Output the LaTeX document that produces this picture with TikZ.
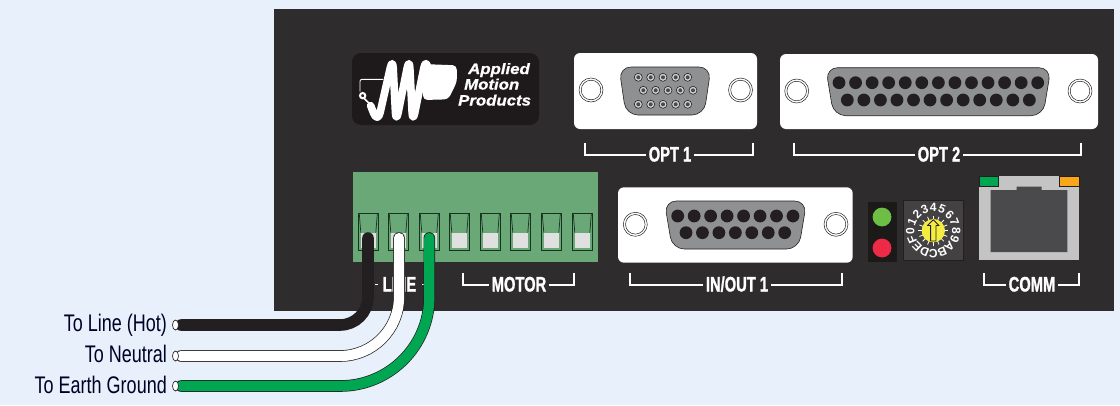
\documentclass[tikz,border=0pt]{standalone}
\usepackage{fontspec}
\usetikzlibrary{calc,shapes.geometric}
\setmainfont{Liberation Sans}
\newfontfamily\capfont[FakeStretch=0.7,FakeBold=1.2]{Liberation Sans}
\newfontfamily\sidefont[FakeStretch=0.75]{Liberation Sans}
\newfontfamily\logofont[FakeStretch=1.12,FakeBold=0.8]{Liberation Sans}
\definecolor{bgc}{HTML}{E8F1FB}
\definecolor{panelc}{HTML}{2E2C2D}
\definecolor{blockc}{HTML}{6AA877}
\definecolor{termc}{HTML}{16331F}
\definecolor{shellc}{HTML}{8F9092}
\definecolor{pinc}{HTML}{231F20}
\definecolor{wgreen}{HTML}{00A651}
\definecolor{rjc}{HTML}{C4C4C4}
\definecolor{rjd}{HTML}{4A4A4C}
\definecolor{ledg}{HTML}{6CBE45}
\definecolor{ledr}{HTML}{EE2A47}
\definecolor{yel}{HTML}{F5EC42}
\definecolor{oran}{HTML}{F9A61A}
\tikzset{
  x=1pt,y=-1pt,
  plate/.style={fill=white,rounded corners=6pt},
  shell/.style={fill=shellc,draw=pinc,line width=.6pt,rounded corners=12pt},
  holes/.style={fill=pinc,draw=none},
  bracket/.style={draw=white,line width=1.9pt},
  capt/.style={font=\capfont\bfseries\fontsize{21}{21}\selectfont,text=white,inner xsep=3pt,inner ysep=0pt,text height=13pt,text depth=0pt},
  side/.style={font=\sidefont\fontsize{24}{24}\selectfont,text=black!85!blue,anchor=base east,inner sep=0pt},
  logot/.style={font=\logofont\bfseries\itshape\fontsize{15}{15}\selectfont,text=white,anchor=base west,inner sep=0pt},
  dial/.style={font=\bfseries\fontsize{12}{12}\selectfont,text=white,inner sep=0pt},
  wireo/.style={line width=11.6pt,line cap=round,draw=pinc,rounded corners=#1},
  wirei/.style={line width=10.2pt,line cap=round,rounded corners=#1},
  wireend/.style={ellipse,draw=pinc,fill=white,line width=.7pt,minimum width=6pt,minimum height=10pt,inner sep=0pt},
}
\newcommand{\screwat}[2]{%
  \draw[pinc,line width=.5pt,fill=white] (#1,#2) circle[radius=12];
  \draw[pinc,line width=.5pt] (#1,#2) circle[radius=9.8];}
\newcommand{\dsubshell}[5]{% x1 x2 y1 y2 taper
  \draw[shell] (#1,#3) -- (#2,#3) -- ({#2-#5},#4) -- ({#1+#5},#4) -- cycle;}
\begin{document}
\begin{tikzpicture}
\useasboundingbox (0,0) rectangle (1120,405);
\fill[bgc] (0,0) rectangle (1120,405);
% panel
\fill[panelc] (274,9) rectangle (1114,311);

% logo
\fill[pinc!85!black,rounded corners=9pt] (352,53) rectangle (539,125);
\begin{scope}[shift={(340,40)},x=.3333pt,y=-.3333pt]
  \draw[white,line width=.9pt,rounded corners=2pt] (130,118) -- (60,118) -- (60,155);
  \draw[white,line width=2pt,fill=pinc] (68,167) circle[radius=8];
  \draw[white,line width=1.6pt] (72,175) -- (92,195);
  \fill[white,rounded corners=4pt] (245,72) -- (350,76) -- (351,125) -- (325,178) -- (250,180) -- cycle;
  \draw[white,line width=7.6pt,line join=round,line cap=round,rounded corners=11pt]
    (92,197) -- (113,250) -- (158,52) -- (168,250) -- (208,52) -- (218,250) -- (258,52) -- (268,110);
\end{scope}
\node[logot] (logoa) at (468,74) {Applied};
\node[logot] (logom) at (464,89.5) {Motion};
\node[logot] (logop) at (458,105.5) {Products};

% OPT 1
\fill[plate] (574,53) rectangle (757,129);
\screwat{591}{90}\screwat{740.5}{90}
\dsubshell{619}{711}{67}{115}{7}
\foreach \x in {638.3,650.7,663,675.7,687.7}{
  \foreach \y in {77.3,104.3}{
    \draw[pinc,line width=.6pt,fill=shellc!40!white] (\x,\y) circle[radius=4];
    \fill[rjd] (\x,\y) circle[radius=2];}}
\foreach \x in {643.3,655.7,668,680.3,693}{
    \draw[pinc,line width=.6pt,fill=shellc!40!white] (\x,90.3) circle[radius=4];
    \fill[rjd] (\x,90.3) circle[radius=2];}
\node[capt] (lopt1) at (670,155) {OPT 1};
\draw[bracket] (585,143) |- (lopt1.west);
\draw[bracket] (753,143) |- (lopt1.east);

% OPT 2
\fill[plate] (780,54) rectangle (1098,129);
\screwat{796.7}{91}\screwat{1080}{91}
\dsubshell{825.7}{1051}{67.7}{115.7}{8}
\foreach \i in {0,...,12}{\fill[holes] ({839+\i*16.56},82.7) circle[radius=6.4];}
\foreach \i in {0,...,11}{\fill[holes] ({847.3+\i*16.55},100) circle[radius=6.4];}
\node[capt] (lopt2) at (939,155) {OPT 2};
\draw[bracket] (794,143) |- (lopt2.west);
\draw[bracket] (1080.7,143) |- (lopt2.east);

% IN/OUT 1
\fill[plate] (618,187.3) rectangle (852.7,262.7);
\screwat{635.3}{224.3}\screwat{836}{224.3}
\dsubshell{664.3}{806.7}{201}{249}{8}
\foreach \i in {0,...,7}{\fill[holes] ({677.7+\i*16.47},216) circle[radius=6.4];}
\foreach \i in {0,...,6}{\fill[holes] ({686+\i*16.45},232.7) circle[radius=6.4];}
\node[capt] (lio) at (737,285) {IN/OUT 1};
\draw[bracket] (630,273.3) |- (lio.west);
\draw[bracket] (842,273.3) |- (lio.east);

% terminal block
\fill[blockc] (352.5,172) rectangle (597.5,262);
\foreach \x in {358.3,388.3,419.3,449.3,480.3,510.3,541.3,572.3}{
  \draw[termc,line width=.7pt] (\x,213.3) rectangle ++(20,37.4);
  \draw[termc,line width=.7pt] ({\x+1},214) -- ({\x+2.5},232.7);
  \draw[termc,line width=.7pt] ({\x+19},214) -- ({\x+17.5},232.7);
  \fill[black!12] ({\x+2.5},232.7) rectangle ({\x+17.5},248);
}
\node[capt] (lmotor) at (519,285) {MOTOR};
\draw[bracket] (463.3,273) |- (lmotor.west);
\draw[bracket] (574,273) |- (lmotor.east);
\node[capt] (lline) at (399.5,285) {LINE};
\draw[bracket] (375,284.5) -- (378,284.5);
\draw[bracket] (422,284.5) -- (425,284.5);

% LEDs
\fill[pinc!80!black] (868,202) rectangle (897,262);
\fill[ledg] (882,217) circle[radius=9.4];
\fill[ledr] (882,248) circle[radius=9.4];

% rotary switch
\draw[pinc,line width=.5pt,fill=panelc!90!white] (903.3,200.7) rectangle (963,260);
\coordinate (dialc) at (933.3,230.7);
\foreach \a in {0,22.5,...,337.5}{
  \draw[white,line width=.8pt] (dialc) ++(\a:10) -- ++(\a:5);}
\fill[yel] (dialc) circle[radius=11.7];
\draw[pinc,line width=.9pt,line join=round,fill=yel]
  (930.6,241) -- (930.6,225.5) -- (927.5,225.5) -- (933.3,219.8) -- (939.1,225.5) -- (936,225.5) -- (936,241) -- cycle;
\foreach \t [count=\i from 0] in {0,1,2,3,4,5,6,7,8,9,A,B,C,D,E,F}{
  \pgfmathsetmacro{\rot}{90-\i*22.5}
  \pgfmathsetmacro{\ang}{180+\i*22.5}
  \node[dial,rotate=\rot] (dg\i) at ($(dialc)+(\ang:23)$) {\t};
}

% RJ45
\fill[rjc] (979,176) rectangle (1079.3,260);
\fill[rjd] (990.7,190) -- (1016.7,190) -- (1016.7,186.7) -- (1041.7,186.7) -- (1041.7,190) -- (1067.3,190) -- (1067.3,252) -- (990.7,252) -- cycle;
\draw[pinc,line width=.5pt,fill=wgreen] (979,176) rectangle (998,186.7);
\draw[pinc,line width=.5pt,fill=oran] (1059,176) rectangle (1079.3,186.7);
\node[capt] (lcomm) at (1032,285) {COMM};
\draw[bracket] (984,273) |- (lcomm.west);
\draw[bracket] (1079,273) |- (lcomm.east);

% wires
\node[side] (thot) at (167,331.7) {To Line (Hot)};
\node[side] (tneu) at (167,362.7) {To Neutral};
\node[side] (tgnd) at (167,393) {To Earth Ground};
\coordinate (wa1) at (181,325);
\coordinate (wb1) at (368,238);
\coordinate (wa2) at (181,356);
\coordinate (wb2) at (399,238);
\coordinate (wa3) at (181,386);
\coordinate (wb3) at (429.3,238);
\draw[wireo=28pt] (wa1) -| (wb1);
\draw[wireo=59pt] (wa2) -| (wb2);
\draw[wirei=59pt,draw=white] (wa2) -| (wb2);
\draw[wireo=89pt] (wa3) -| (wb3);
\draw[wirei=89pt,draw=wgreen] (wa3) -| (wb3);
\node[wireend] (we1) at (175.5,325) {};
\node[wireend] (we2) at (175.5,356) {};
\node[wireend] (we3) at (175.5,386) {};
\end{tikzpicture}
\end{document}
